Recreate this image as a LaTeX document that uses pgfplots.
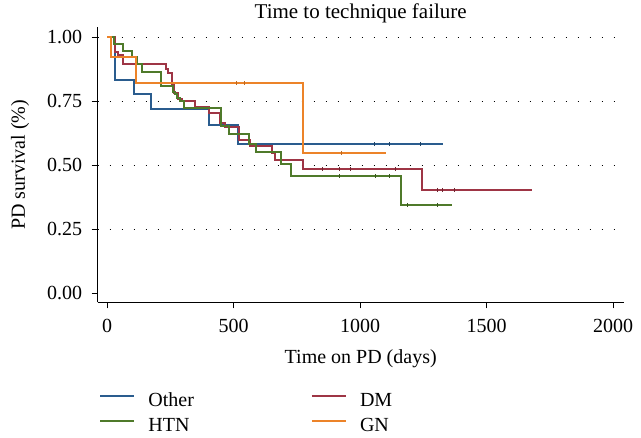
\documentclass[border=0pt]{standalone}
\usepackage{fontspec}
\setmainfont{Liberation Serif}
\usepackage{pgfplots}
\pgfplotsset{compat=1.18}

\definecolor{cOther}{HTML}{2A5C8E}
\definecolor{cDM}{HTML}{9E3545}
\definecolor{cHTN}{HTML}{4F7A2A}
\definecolor{cGN}{HTML}{EC8329}
\newcommand{\f}{\fontsize{20bp}{24bp}\selectfont}

\begin{document}
\begin{tikzpicture}[font=\f]
\useasboundingbox (-97.7bp,-135.7bp) rectangle (543.3bp,302.3bp);
\begin{axis}[
  at={(0,0)}, anchor=south west,
  scale only axis, width=526bp, height=275.2bp,
  xmin=-36.8, xmax=2042, ymin=-0.035, ymax=1.04,
  axis lines*=left, axis line style={-, line width=1bp},
  tick align=outside, major tick length=6bp,
  tick style={black, line width=1bp},
  xtick={0,500,1000,1500,2000},
  ytick={0.25,0.5,0.75,1},
  extra y ticks={0}, extra y tick labels={0.00},
  extra y tick style={grid=none},
  ymajorgrids,
  grid style={black, line width=1.2bp, dash pattern=on 1.2bp off 10.8bp},
  /pgf/number format/assume math mode=true,
  /pgf/number format/1000 sep={},
  yticklabel={\pgfmathprintnumber[fixed,fixed zerofill,precision=2]{\tick}},
  xticklabel style={anchor=center, yshift=-18bp},
  yticklabel style={anchor=east, xshift=-6bp},
  title={Time to technique failure},
  title style={at={(axis description cs:0.5,1)}, anchor=center, yshift=8bp,
    font=\fontsize{21bp}{25bp}\selectfont},
  xlabel={Time on PD (days)},
  xlabel style={at={([yshift=-56bp]axis description cs:0.5,0)}, anchor=center},
  ylabel={PD survival (\%)},
  ylabel style={at={([xshift=-77.7bp]axis description cs:0,0.5)}, anchor=center},
  legend columns=2,
  legend cell align=left,
  legend style={draw=none, fill=none, inner sep=0pt,
    at={([xshift=1.6bp,yshift=-89.7bp]axis description cs:0,0)}, anchor=north west,
    nodes={inner sep=0pt, text height=14bp, text depth=4bp},
    row sep=7bp,
    /tikz/every odd column/.append style={column sep=13.4bp},
    /tikz/every even column/.append style={column sep=117bp}},
  legend image code/.code={\draw[#1, line width=1.6bp] (0bp,5bp) -- (34bp,5bp);},
]
\addplot[const plot, draw=cOther, line width=2bp] coordinates {
(0,1) (32,0.833) (108,0.778) (172,0.722) (404,0.656) (519,0.583) (1327,0.583)};
\addlegendentry{Other}
\addplot[const plot, draw=cDM, line width=2bp] coordinates {
(0,1) (31,0.944) (45,0.931) (64,0.896) (233,0.875) (242,0.859) (255,0.814)
(265,0.784) (281,0.760) (295,0.751) (348,0.727) (403,0.703) (446,0.664)
(465,0.651) (520,0.600) (564,0.575) (654,0.548) (662,0.522) (776,0.484)
(1244,0.404) (1681,0.404)};
\addlegendentry{DM}
\addplot[const plot, draw=cHTN, line width=2bp] coordinates {
(0,1) (28,0.974) (64,0.948) (97,0.922) (117,0.894) (139,0.866) (212,0.811)
(259,0.788) (268,0.778) (277,0.762) (288,0.751) (305,0.723) (452,0.655)
(483,0.623) (561,0.585) (588,0.553) (689,0.505) (729,0.458) (1161,0.345)
(1362,0.345)};
\addlegendentry{HTN}
\addplot[const plot, draw=cGN, line width=2bp] coordinates {
(0,1) (17,0.922) (114,0.820) (776,0.547) (1103,0.547)};
\addlegendentry{GN}

% censoring ticks
\addplot[forget plot, only marks, mark=|, mark size=2bp, mark options={line width=0.9bp, draw=cOther!70!black}]
coordinates {(1055,0.583) (1116,0.583) (1237,0.583)};
\addplot[forget plot, only marks, mark=|, mark size=2bp, mark options={line width=0.9bp, draw=cDM!70!black}]
coordinates {(853,0.484) (918,0.484) (963,0.484) (1141,0.484) (1307,0.404) (1327,0.404) (1375,0.404)};
\addplot[forget plot, only marks, mark=|, mark size=2bp, mark options={line width=0.9bp, draw=cHTN!70!black}]
coordinates {(917,0.458) (1059,0.458) (1116,0.458) (1189,0.345) (1307,0.345)};
\addplot[forget plot, only marks, mark=|, mark size=2bp, mark options={line width=0.9bp, draw=cGN!80!black}]
coordinates {(513,0.820) (545,0.820) (925,0.547)};
\end{axis}
\end{tikzpicture}
\end{document}
